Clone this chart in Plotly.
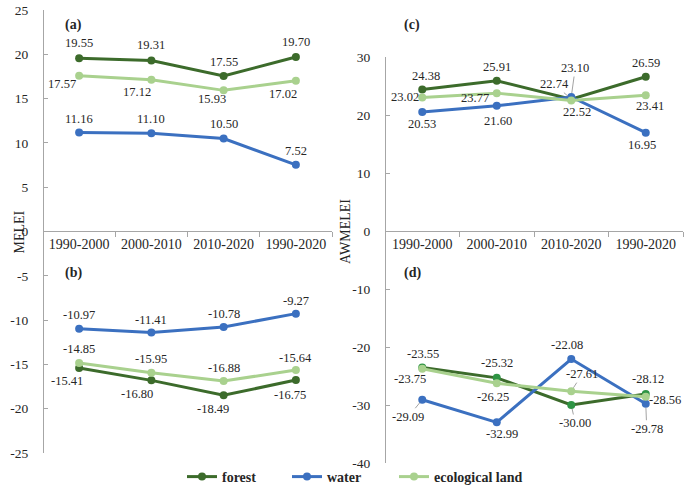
import plotly.graph_objects as go

# ---------------- data ----------------
periods = ["1990-2000", "2000-2010", "2010-2020", "1990-2020"]

mel_forest_pos = [19.55, 19.31, 17.55, 19.70]
mel_water_pos = [11.16, 11.10, 10.50, 7.52]
mel_eco_pos = [17.57, 17.12, 15.93, 17.02]

mel_forest_neg = [-15.41, -16.80, -18.49, -16.75]
mel_water_neg = [-10.97, -11.41, -10.78, -9.27]
mel_eco_neg = [-14.85, -15.95, -16.88, -15.64]

aw_forest_pos = [24.38, 25.91, 22.74, 26.59]
aw_water_pos = [20.53, 21.60, 23.10, 16.95]
aw_eco_pos = [23.02, 23.77, 22.52, 23.41]

aw_forest_neg = [-23.55, -25.32, -30.00, -28.12]
aw_water_neg = [-29.09, -32.99, -22.08, -29.78]
aw_eco_neg = [-23.75, -26.25, -27.61, -28.56]

left_ticks = [-25, -20, -15, -10, -5, 0, 5, 10, 15, 20, 25]
right_ticks = [-40, -30, -20, -10, 0, 10, 20, 30]

series_names = ["forest", "water", "ecological land"]

# ---------------- styles ----------------
C_FOREST = "#3C6B2B"
C_WATER = "#3B70C0"
C_ECO = "#A9D18E"
C_AXIS = "#A6A6A6"
C_TEXT = "#262626"
FONT = "Liberation Serif, Times New Roman, Times, serif"

# label offsets in pixels: (dx, dy_down, leader)
off = {
    "a_f": [(0, -15, 0), (0, -15, 0), (0, -14, 0), (0, -15, 0)],
    "a_w": [(0, -14, 0), (0, -14, 0), (0, -14, 0), (0, -14, 0)],
    "a_e": [(-17, 8, 0), (-14, 12, 0), (-12, 9, 0), (-13, 13, 0)],
    "b_f": [(-12, 13, 0), (-14, 14, 0), (-11, 14, 0), (-6, 15, 0)],
    "b_w": [(0, -14, 0), (0, -13, 0), (0, -13, 0), (0, -13, 0)],
    "b_e": [(0, -14, 0), (0, -14, 0), (0, -13, 0), (0, -12, 0)],
    "c_f": [(4, -14, 0), (0, -14, 0), (-17, -15, 1), (0, -14, 0)],
    "c_w": [(0, 12, 0), (1, 15, 0), (4, -29, 1), (-4, 12, 0)],
    "c_e": [(-17, 0, 0), (-22, 5, 0), (6, 12, 1), (4, 11, 0)],
    "d_f": [(1, -14, 0), (0, -15, 0), (4, 18, 1), (2, -15, 0)],
    "d_w": [(-14, 17, 1), (5, 12, 0), (-4, -14, 0), (1, 25, 1)],
    "d_e": [(-12, 10, 0), (-4, 14, 0), (11, -17, 1), (19, 3, 0)],
}

fig = go.Figure()
annotations = []

panels = [
    ("a", "x", "y", [mel_forest_pos, mel_water_pos, mel_eco_pos], True, C_FOREST),
    ("b", "x", "y", [mel_forest_neg, mel_water_neg, mel_eco_neg], False, C_FOREST),
    ("c", "x2", "y2", [aw_forest_pos, aw_water_pos, aw_eco_pos], False, C_FOREST),
    ("d", "x2", "y2", [aw_forest_neg, aw_water_neg, aw_eco_neg], False, "#2E9444"),
]
colors = [C_FOREST, C_WATER, C_ECO]
keys = ["f", "w", "e"]
legend_ids = ["legend", "legend2", "legend3"]

for pid, xa, ya, vals_list, show_leg, forest_marker in panels:
    for name, vals, col, k, lg in zip(series_names, vals_list, colors, keys, legend_ids):
        mcol = forest_marker if k == "f" else col
        fig.add_trace(go.Scatter(
            x=periods, y=vals, mode="lines+markers", name=name,
            line=dict(color=col, width=3),
            marker=dict(color=mcol, size=8),
            xaxis=xa, yaxis=ya, showlegend=show_leg, legendgroup=name,
            legend=lg, hoverinfo="skip",
        ))
        for p, v, (dx, dy, lead) in zip(periods, vals, off[pid + "_" + k]):
            lab = f"{v:.2f}"
            if lead:
                annotations.append(dict(
                    x=p, y=v, xref=xa, yref=ya, text=lab,
                    showarrow=True, ax=dx, ay=dy, arrowhead=0,
                    arrowwidth=0.8, arrowcolor="#8C8C8C", standoff=4,
                    font=dict(family=FONT, size=12.5, color=C_TEXT),
                ))
            else:
                annotations.append(dict(
                    x=p, y=v, xref=xa, yref=ya, text=lab,
                    showarrow=False, xshift=dx, yshift=-dy,
                    font=dict(family=FONT, size=12.5, color=C_TEXT),
                ))

# panel letters
for txt, x, y in [("(a)", 63, 15), ("(b)", 63, 273), ("(c)", 412, 15), ("(d)", 412, 273)]:
    annotations.append(dict(
        x=x / 685, y=1 - y / 491, xref="paper", yref="paper", text=f"<b>{txt}</b>",
        showarrow=False, font=dict(family=FONT, size=14, color=C_TEXT),
    ))

# axis titles
annotations.append(dict(x=10 / 685, y=1 - 232 / 491, xref="paper", yref="paper",
                        text="MELEI", textangle=-90, showarrow=False,
                        font=dict(family=FONT, size=14, color=C_TEXT)))
annotations.append(dict(x=346 / 685, y=1 - 232 / 491, xref="paper", yref="paper",
                        text="AWMELEI", textangle=-90, showarrow=False,
                        font=dict(family=FONT, size=14, color=C_TEXT)))

xcommon = dict(type="category", range=[-0.5, 3.5], tickson="boundaries",
               ticks="outside", ticklen=5, tickcolor=C_AXIS, showline=True,
               linecolor=C_AXIS, linewidth=1, showgrid=False, zeroline=False,
               tickfont=dict(family=FONT, size=14, color=C_TEXT), anchor="free",
               position=1 - 231 / 491, automargin=False)
ycommon = dict(showline=True, linecolor=C_AXIS, linewidth=1, showgrid=False,
               zeroline=False, ticks="inside", ticklen=4, tickcolor=C_AXIS,
               tickfont=dict(family=FONT, size=13.5, color=C_TEXT),
               ticklabelstandoff=12, automargin=False)

legend_font = dict(family=FONT, size=14, color=C_TEXT, weight="bold")


def leg(xpix):
    return dict(orientation="h", x=xpix / 685, xanchor="left", y=1 - 477 / 491,
                yanchor="middle", itemwidth=30, font=legend_font,
                bgcolor="rgba(0,0,0,0)")


fig.update_layout(
    width=685, height=491,
    margin=dict(l=0, r=0, t=0, b=0, autoexpand=False),
    paper_bgcolor="white", plot_bgcolor="white",
    xaxis=dict(domain=[43 / 685, 332 / 685], **xcommon),
    yaxis=dict(domain=[1 - 453 / 491, 1 - 10 / 491], range=[-25, 25],
               tickvals=left_ticks, ticktext=[str(t) for t in left_ticks],
               anchor="free", position=43 / 685, **ycommon),
    xaxis2=dict(domain=[385 / 685, 683 / 685], **xcommon),
    yaxis2=dict(domain=[1 - 463 / 491, 1 - 57 / 491], range=[-40, 30],
                tickvals=right_ticks, ticktext=[str(t) for t in right_ticks],
                anchor="free", position=385 / 685, **ycommon),
    legend=leg(182),
    legend2=leg(287),
    legend3=leg(394),
    annotations=annotations,
    showlegend=True,
)

fig.write_html(
    "out.html",
    config={"displayModeBar": False},
    post_script="document.body.style.margin='0';document.body.style.overflow='hidden';",
)
